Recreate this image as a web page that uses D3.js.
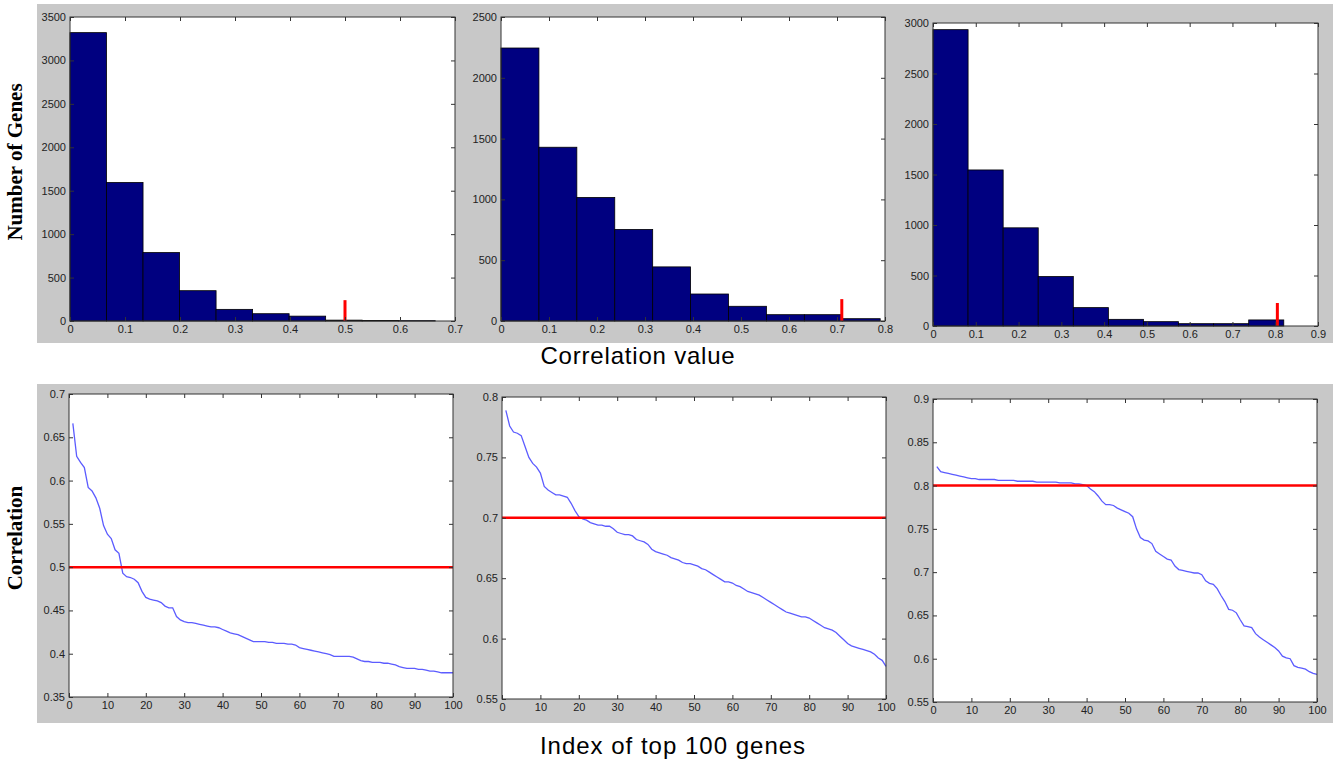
<!DOCTYPE html>
<html>
<head>
<meta charset="utf-8">
<script src="https://cdn.jsdelivr.net/npm/d3@7"></script>
<style>
  body { margin: 0; background: #fff; }
  text { font-family: Arial, "Liberation Sans", sans-serif; }
</style>
</head>
<body>
<svg width="1342" height="760"></svg>
<script>
// histogram counts (10 bins each, equal width from 0 to histMax)
var histCounts = [
  [3320, 1595, 788, 349, 134, 84, 56, 10, 6, 4],
  [2245, 1429, 1016, 753, 445, 222, 121, 52, 52, 19],
  [2934, 1545, 972, 490, 182, 66, 43, 23, 23, 60]
];
var histMax = [0.664, 0.79, 0.82];
var cutoffs = [0.5, 0.71, 0.805];
var cutoffMark = [240, 180, 228];
var histXTicks = [
  [0, 0.1, 0.2, 0.3, 0.4, 0.5, 0.6, 0.7],
  [0, 0.1, 0.2, 0.3, 0.4, 0.5, 0.6, 0.7, 0.8],
  [0, 0.1, 0.2, 0.3, 0.4, 0.5, 0.6, 0.7, 0.8, 0.9]
];
var histYTicks = [
  [0, 500, 1000, 1500, 2000, 2500, 3000, 3500],
  [0, 500, 1000, 1500, 2000, 2500],
  [0, 500, 1000, 1500, 2000, 2500, 3000]
];

// sorted correlation of top 100 genes
var corr1 = [0.666, 0.628, 0.621, 0.615, 0.592, 0.588, 0.580, 0.568, 0.548, 0.538,
  0.533, 0.520, 0.516, 0.493, 0.489, 0.488, 0.486, 0.482, 0.472, 0.465,
  0.463, 0.462, 0.461, 0.459, 0.455, 0.453, 0.453, 0.443, 0.439, 0.437,
  0.436, 0.436, 0.435, 0.434, 0.433, 0.432, 0.431, 0.431, 0.430, 0.428,
  0.426, 0.424, 0.423, 0.422, 0.420, 0.418, 0.416, 0.414, 0.414, 0.414,
  0.414, 0.413, 0.413, 0.412, 0.412, 0.412, 0.411, 0.411, 0.410, 0.407,
  0.406, 0.405, 0.404, 0.403, 0.402, 0.401, 0.400, 0.399, 0.397, 0.397,
  0.397, 0.397, 0.397, 0.396, 0.394, 0.392, 0.391, 0.391, 0.390, 0.390,
  0.390, 0.389, 0.389, 0.388, 0.387, 0.385, 0.384, 0.383, 0.383, 0.383,
  0.382, 0.382, 0.381, 0.380, 0.380, 0.379, 0.378, 0.378, 0.378, 0.378];
var corr2 = [0.789, 0.776, 0.771, 0.770, 0.768, 0.759, 0.750, 0.745, 0.742, 0.737,
  0.726, 0.723, 0.721, 0.719, 0.719, 0.718, 0.717, 0.712, 0.706, 0.701,
  0.699, 0.698, 0.696, 0.695, 0.694, 0.694, 0.693, 0.693, 0.691, 0.688,
  0.687, 0.686, 0.686, 0.685, 0.682, 0.681, 0.680, 0.678, 0.674, 0.672,
  0.671, 0.670, 0.669, 0.667, 0.666, 0.665, 0.663, 0.662, 0.662, 0.661,
  0.660, 0.658, 0.657, 0.655, 0.653, 0.651, 0.649, 0.647, 0.647, 0.646,
  0.644, 0.643, 0.641, 0.639, 0.638, 0.637, 0.636, 0.634, 0.632, 0.630,
  0.628, 0.626, 0.624, 0.622, 0.621, 0.620, 0.619, 0.618, 0.618, 0.617,
  0.615, 0.613, 0.611, 0.609, 0.608, 0.607, 0.605, 0.602, 0.599, 0.596,
  0.594, 0.593, 0.592, 0.591, 0.590, 0.589, 0.587, 0.584, 0.582, 0.577];
var corr3 = [0.822, 0.816, 0.815, 0.814, 0.813, 0.812, 0.811, 0.810, 0.809, 0.808,
  0.808, 0.807, 0.807, 0.807, 0.807, 0.807, 0.806, 0.806, 0.806, 0.806,
  0.806, 0.805, 0.805, 0.805, 0.805, 0.805, 0.804, 0.804, 0.804, 0.804,
  0.804, 0.804, 0.803, 0.803, 0.803, 0.803, 0.802, 0.802, 0.801, 0.800,
  0.796, 0.793, 0.788, 0.782, 0.778, 0.778, 0.777, 0.774, 0.772, 0.770,
  0.768, 0.764, 0.750, 0.740, 0.737, 0.736, 0.733, 0.724, 0.721, 0.718,
  0.715, 0.714, 0.707, 0.703, 0.702, 0.701, 0.700, 0.699, 0.699, 0.697,
  0.690, 0.687, 0.686, 0.681, 0.673, 0.666, 0.657, 0.656, 0.653, 0.645,
  0.638, 0.637, 0.636, 0.629, 0.625, 0.622, 0.619, 0.616, 0.613, 0.609,
  0.603, 0.601, 0.600, 0.592, 0.590, 0.589, 0.588, 0.585, 0.583, 0.582];
var corrSeries = [corr1, corr2, corr3];
var thresholds = [0.5, 0.7, 0.8];
var lineYTicks = [
  [0.35, 0.4, 0.45, 0.5, 0.55, 0.6, 0.65, 0.7],
  [0.55, 0.6, 0.65, 0.7, 0.75, 0.8],
  [0.55, 0.6, 0.65, 0.7, 0.75, 0.8, 0.85, 0.9]
];
var lineXTicks = [0, 10, 20, 30, 40, 50, 60, 70, 80, 90, 100];

var svg = d3.select('svg');

var histBoxes = [{x:70,y:17,w:385,h:304},{x:501,y:17,w:384,h:304},{x:933,y:23,w:385,h:303}];
var lineBoxes = [{x:69,y:394,w:384,h:303},{x:502,y:397,w:384,h:302},{x:933,y:399,w:384,h:303}];

// gray figure backgrounds
svg.append('rect').attr('x',37).attr('y',4).attr('width',1296).attr('height',339).attr('fill','#c8c8c8');
svg.append('rect').attr('x',37).attr('y',384).attr('width',1296).attr('height',339).attr('fill','#c8c8c8');

var fmt = d => String(+d.toFixed(3));

function frame(g, x, y, xt, yt, w, h) {
  g.append('g').attr('transform',`translate(0,${h})`)
    .call(d3.axisBottom(x).tickValues(xt).tickSizeInner(-4).tickSizeOuter(0).tickPadding(4).tickFormat(fmt));
  g.append('g')
    .call(d3.axisLeft(y).tickValues(yt).tickSizeInner(-4).tickSizeOuter(0).tickPadding(4).tickFormat(fmt));
  g.append('g')
    .call(d3.axisTop(x).tickValues(xt).tickSizeInner(-4).tickSizeOuter(0).tickFormat(''));
  g.append('g').attr('transform',`translate(${w},0)`)
    .call(d3.axisRight(y).tickValues(yt).tickSizeInner(-4).tickSizeOuter(0).tickFormat(''));
  g.selectAll('.domain').remove();
  g.selectAll('.tick line').attr('stroke','#333');
  g.selectAll('.tick text').attr('fill','#222').style('font-size','11px')
    .style('font-family','Arial, "Liberation Sans", sans-serif');
  g.append('rect').attr('width',w).attr('height',h).attr('fill','none').attr('stroke','#333');
}

histCounts.forEach((counts, k) => {
  var b = histBoxes[k];
  var g = svg.append('g').attr('transform',`translate(${b.x},${b.y})`);
  g.append('rect').attr('width',b.w).attr('height',b.h).attr('fill','#fff');

  var xTicks = histXTicks[k], yTicks = histYTicks[k];
  var x = d3.scaleLinear().domain([0, xTicks[xTicks.length-1]]).range([0, b.w]);
  var y = d3.scaleLinear().domain([0, yTicks[yTicks.length-1]]).range([b.h, 0]);
  var bw = histMax[k] / counts.length;

  g.selectAll('rect.bar').data(counts).enter().append('rect')
    .attr('class','bar')
    .attr('x', (d,i) => x(i*bw))
    .attr('width', (d,i) => x((i+1)*bw) - x(i*bw))
    .attr('y', d => y(d))
    .attr('height', d => b.h - y(d))
    .attr('fill','#000080')
    .attr('stroke','#000')
    .attr('stroke-width',0.8);

  g.append('line')
    .attr('x1', x(cutoffs[k])).attr('x2', x(cutoffs[k]))
    .attr('y1', y(0)).attr('y2', y(cutoffMark[k]))
    .attr('stroke','#ff0000').attr('stroke-width',3);

  frame(g, x, y, xTicks, yTicks, b.w, b.h);
});

corrSeries.forEach((vals, k) => {
  var b = lineBoxes[k];
  var g = svg.append('g').attr('transform',`translate(${b.x},${b.y})`);
  g.append('rect').attr('width',b.w).attr('height',b.h).attr('fill','#fff');

  var yTicks = lineYTicks[k];
  var x = d3.scaleLinear().domain([0, 100]).range([0, b.w]);
  var y = d3.scaleLinear().domain([yTicks[0], yTicks[yTicks.length-1]]).range([b.h, 0]);

  g.append('path').datum(vals)
    .attr('d', d3.line().x((d,i) => x(i+1)).y(d => y(d)))
    .attr('fill','none').attr('stroke','#5c5cff').attr('stroke-width',1.3);

  g.append('line')
    .attr('x1', x(0)).attr('x2', x(100))
    .attr('y1', y(thresholds[k])).attr('y2', y(thresholds[k]))
    .attr('stroke','#ff0000').attr('stroke-width',2.5);

  frame(g, x, y, lineXTicks, yTicks, b.w, b.h);
});

// axis titles
svg.append('text').attr('transform','translate(22,162) rotate(-90)')
  .attr('text-anchor','middle')
  .style('font-family','"Liberation Serif", "Times New Roman", serif')
  .style('font-weight','bold').style('font-size','21px')
  .text('Number of Genes');
svg.append('text').attr('transform','translate(22,538) rotate(-90)')
  .attr('text-anchor','middle')
  .style('font-family','"Liberation Serif", "Times New Roman", serif')
  .style('font-weight','bold').style('font-size','21px')
  .text('Correlation');
svg.append('text').attr('x',638).attr('y',364).attr('text-anchor','middle')
  .style('font-size','24px').style('letter-spacing','0.8px').attr('fill','#000')
  .text('Correlation value');
svg.append('text').attr('x',673).attr('y',754).attr('text-anchor','middle')
  .style('font-size','24px').style('letter-spacing','1px').attr('fill','#000')
  .text('Index of top 100 genes');
</script>
</body>
</html>
